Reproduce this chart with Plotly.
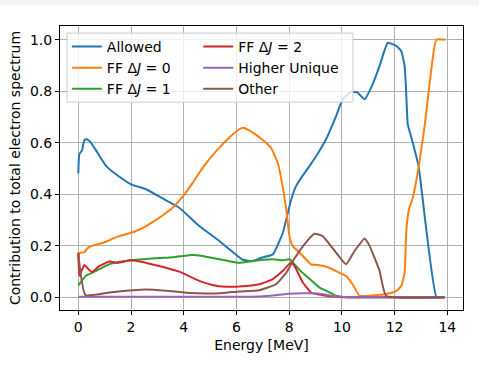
import plotly.graph_objects as go

# ---- data ----
allowed_E = [0, 0.04, 0.14, 0.23, 0.32, 0.44, 0.67, 1.05, 1.43, 2.0, 2.57, 3.15, 3.83, 4.59, 5.35, 5.8,
             6.24, 6.6, 6.95, 7.38, 7.76, 7.95, 8.08, 8.26, 8.5, 8.77, 9.1, 9.4, 9.78, 10.03, 10.35,
             10.6, 10.86, 11.17, 11.43, 11.74, 12.06, 12.25, 12.38, 12.44, 12.5, 12.69, 12.91, 13.59, 13.9]
allowed_v = [0.48, 0.555, 0.57, 0.61, 0.613, 0.605, 0.57, 0.51, 0.477, 0.438, 0.419, 0.386, 0.347, 0.276,
             0.218, 0.18, 0.145, 0.14, 0.153, 0.166, 0.25, 0.328, 0.38, 0.431, 0.47, 0.509, 0.56, 0.613,
             0.703, 0.768, 0.797, 0.794, 0.768, 0.827, 0.898, 0.988, 0.976, 0.956, 0.898, 0.794, 0.671,
             0.6, 0.509, 0.0, 0.0]

ff0_E = [0, 0.04, 0.23, 0.35, 0.54, 0.8, 1.11, 1.43, 1.81, 2.19, 2.57, 2.95, 3.3, 3.58, 3.96, 4.34,
         4.7, 5.23, 5.73, 6.11, 6.26, 6.56, 7.0, 7.32, 7.57, 7.73, 7.89, 8.01, 8.14, 8.52, 8.83, 9.15,
         9.5, 9.9, 10.16, 10.41, 10.67, 11.2, 11.68, 12.06, 12.25, 12.38, 12.44, 12.54, 12.69, 12.92,
         13.14, 13.33, 13.58, 13.93]
ff0_v = [0.146, 0.17, 0.175, 0.19, 0.2, 0.207, 0.218, 0.233, 0.244, 0.257, 0.276, 0.30, 0.325, 0.347,
         0.39, 0.444, 0.50, 0.567, 0.62, 0.652, 0.658, 0.643, 0.61, 0.578, 0.52, 0.443, 0.34, 0.237,
         0.198, 0.16, 0.127, 0.124, 0.115, 0.095, 0.082, 0.049, 0.005, 0.007, 0.012, 0.023, 0.043,
         0.095, 0.25, 0.34, 0.386, 0.51, 0.665, 0.83, 1.0, 1.0]

ff1_E = [0, 0.29, 0.54, 1.18, 2.0, 2.95, 3.6, 4.34, 4.6, 5.1, 5.7, 6.11, 6.5, 6.87, 7.38, 7.76, 8.01,
         8.2, 8.45, 8.64, 9.15, 9.4, 9.78, 10.16, 13.9]
ff1_v = [0.046, 0.083, 0.095, 0.128, 0.143, 0.151, 0.155, 0.164, 0.162, 0.152, 0.14, 0.133, 0.138,
         0.143, 0.147, 0.143, 0.147, 0.128, 0.1, 0.083, 0.037, 0.025, 0.005, 0.0, 0.0]

ff2_E = [0, 0.04, 0.23, 0.42, 0.52, 0.8, 1.18, 1.49, 2.0, 2.82, 3.83, 4.59, 5.23, 5.8, 6.11, 6.87,
         7.38, 7.76, 8.07, 8.2, 8.52, 8.83, 9.4, 10.0, 13.9]
ff2_v = [0.173, 0.083, 0.125, 0.105, 0.097, 0.121, 0.138, 0.133, 0.143, 0.127, 0.099, 0.063, 0.044,
         0.04, 0.041, 0.05, 0.07, 0.102, 0.134, 0.121, 0.057, 0.018, 0.005, 0.0, 0.0]

hu_E = [0, 6.5, 7.26, 8.0, 8.52, 9.1, 9.65, 10.16, 13.9]
hu_v = [0.001, 0.001, 0.005, 0.013, 0.015, 0.014, 0.005, 0.0, 0.0]

other_E = [0, 0.27, 1.18, 2.06, 2.57, 3.33, 4.09, 4.85, 5.5, 6.11, 6.87, 7.5, 7.89, 8.14, 8.58, 8.96,
           9.27, 9.78, 10.16, 10.48, 10.86, 11.05, 11.43, 11.68, 13.9]
other_v = [0.166, 0.008, 0.018, 0.027, 0.03, 0.025, 0.017, 0.014, 0.016, 0.022, 0.027, 0.05, 0.095,
           0.14, 0.205, 0.246, 0.237, 0.173, 0.128, 0.179, 0.228, 0.199, 0.102, 0.005, 0.0]

x_ticks = [0, 2, 4, 6, 8, 10, 12, 14]
y_ticks = [0.0, 0.2, 0.4, 0.6, 0.8, 1.0]

series = [
    ("Allowed", allowed_E, allowed_v, "#1f77b4", "legend"),
    ("FF Δ<i>J</i> = 0", ff0_E, ff0_v, "#ff7f0e", "legend"),
    ("FF Δ<i>J</i> = 1", ff1_E, ff1_v, "#2ca02c", "legend"),
    ("FF Δ<i>J</i> = 2", ff2_E, ff2_v, "#d62728", "legend2"),
    ("Higher Unique", hu_E, hu_v, "#9467bd", "legend2"),
    ("Other", other_E, other_v, "#8c564b", "legend2"),
]

fig = go.Figure()
for name, xs, ys, col, leg in series:
    fig.add_trace(go.Scatter(x=xs, y=ys, mode="lines", name=name, legend=leg,
                             line=dict(color=col, width=2, shape="spline", smoothing=0.4)))

font = dict(family="DejaVu Sans", size=14, color="black")
axis_common = dict(showline=True, linecolor="black", linewidth=1, mirror=True,
                   ticks="outside", ticklen=4, tickcolor="black", tickwidth=1,
                   showgrid=True, gridcolor="#b0b0b0", gridwidth=1, zeroline=False,
                   tickfont=font)
fig.update_xaxes(range=[-0.695, 14.595], tickvals=x_ticks, ticktext=[str(t) for t in x_ticks],
                 title=dict(text="Energy [MeV]", font=font, standoff=6), **axis_common)
fig.update_yaxes(range=[-0.05, 1.053], tickvals=y_ticks, ticktext=[f"{t:.1f}" for t in y_ticks],
                 title=dict(text="Contribution to total electron spectrum", font=font, standoff=6),
                 **axis_common)

leg_common = dict(orientation="v", yanchor="top", xanchor="left", y=0.983,
                  bgcolor="rgba(0,0,0,0)", borderwidth=0, font=font,
                  traceorder="normal", itemwidth=30, tracegroupgap=0)

fig.update_layout(
    width=479, height=368,
    margin=dict(l=60, r=16, t=26, b=58),
    paper_bgcolor="white", plot_bgcolor="white",
    font=font,
    showlegend=True,
    legend=dict(x=0.017, **leg_common),
    legend2=dict(x=0.343, **leg_common),
    shapes=[
        dict(type="rect", xref="paper", yref="paper", x0=-0.2, x1=1.1,
             y0=1 + 21 / 284, y1=1 + 26 / 284, fillcolor="#f5f5f5", line=dict(width=0),
             layer="below"),
        dict(type="rect", xref="paper", yref="paper", x0=0.0174, x1=0.727,
             y0=0.732, y1=0.975, fillcolor="rgba(255,255,255,0.8)",
             line=dict(color="#cccccc", width=1), layer="above"),
    ],
)

fig.write_html("out.html")
